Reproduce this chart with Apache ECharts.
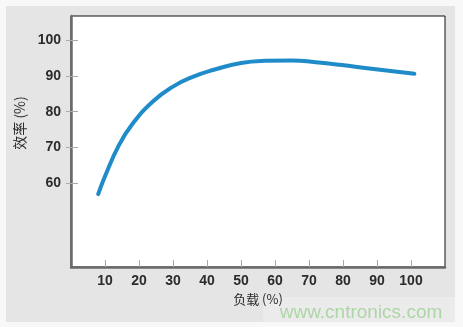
<!DOCTYPE html>
<html>
<head>
<meta charset="utf-8">
<script src="https://cdn.jsdelivr.net/npm/echarts@6/dist/echarts.min.js"></script>
<style>
  html, body { margin: 0; padding: 0; background: #f8f8f8; }
  #main { width: 463px; height: 327px; }
</style>
</head>
<body>
<div id="main"></div>
<script>
// 负载 (%) -> 效率 (%)
var loadPct = [8, 10, 14, 18, 24, 30, 36, 42, 50, 57, 65, 72, 79, 89, 101];
var efficiency = [57.0, 62.0, 70.5, 76.5, 82.8, 87.0, 89.8, 91.7, 93.6, 94.2, 94.3, 93.8, 93.1, 91.9, 90.6];
var xTicks = [10, 20, 30, 40, 50, 60, 70, 80, 90, 100];
var yTicks = [60, 70, 80, 90, 100];

var pts = [];
for (var i = 0; i < loadPct.length; i++) {
  pts.push([loadPct[i], efficiency[i]]);
}

var labelStyle = {
  color: '#2b2b2b',
  fontFamily: 'Liberation Sans, Arial, sans-serif',
  fontWeight: 'bold',
  fontSize: 14
};

var chart = echarts.init(document.getElementById('main'));
chart.setOption({
  backgroundColor: '#f8f8f8',
  animation: false,
  graphic: [
    // gray panel
    { type: 'rect', z: -10, shape: { x: 6, y: 6, width: 449, height: 316 }, style: { fill: '#e5e5e5' } },
    { type: 'rect', z: -9, shape: { x: 263, y: 297, width: 192, height: 25 }, style: { fill: '#ebebeb' } },
    // y name
    { type: 'text', x: 20, y: 123, rotation: Math.PI / 2,
      style: { text: '效率 (%)', fill: '#2b2b2b', font: '14px "Noto Sans CJK SC", sans-serif',
               textAlign: 'center', textVerticalAlign: 'middle' } },
    // x name
    { type: 'text', x: 258, y: 299,
      style: { text: '负载 (%)', fill: '#2b2b2b', font: '13px "Noto Sans CJK SC", sans-serif',
               textAlign: 'center', textVerticalAlign: 'middle' } },
    // watermark
    { type: 'text', x: 361, y: 313,
      style: { text: 'www.cntronics.com', fill: '#add6a6', font: '19px "Liberation Sans", Arial, sans-serif',
               textAlign: 'center', textVerticalAlign: 'middle' } }
  ],
  grid: {
    left: 71, top: 16, right: 18, bottom: 60,
    show: true,
    backgroundColor: '#ffffff',
    borderColor: '#111111',
    borderWidth: 1
  },
  xAxis: {
    type: 'value',
    min: 0, max: 110,
    splitLine: { show: false },
    axisLine: { show: true, lineStyle: { color: '#6a6a6a', width: 2.5 } },
    axisTick: { show: true, inside: true, length: 7, customValues: xTicks, lineStyle: { color: '#aaaaaa' } },
    axisLabel: Object.assign({ customValues: xTicks, margin: 7 }, labelStyle)
  },
  yAxis: [
    {
      type: 'value',
      min: 36.7, max: 106.7,
      splitLine: { show: false },
      axisLine: { show: true, lineStyle: { color: '#6a6a6a', width: 2.5 } },
      axisTick: { show: true, inside: true, length: 7, customValues: yTicks, lineStyle: { color: '#aaaaaa' } },
      axisLabel: Object.assign({ customValues: yTicks, margin: 10 }, labelStyle)
    },
    {
      type: 'value',
      position: 'left',
      min: 36.7, max: 106.7,
      splitLine: { show: false },
      axisLine: { show: false },
      axisTick: { show: true, length: 5, customValues: yTicks, lineStyle: { color: '#aaaaaa' } },
      axisLabel: { show: false }
    }
  ],
  series: [{
    type: 'line',
    data: pts,
    smooth: 0.5,
    symbol: 'none',
    lineStyle: { color: '#1f8bc8', width: 4, cap: 'round' }
  }]
});
</script>
</body>
</html>
